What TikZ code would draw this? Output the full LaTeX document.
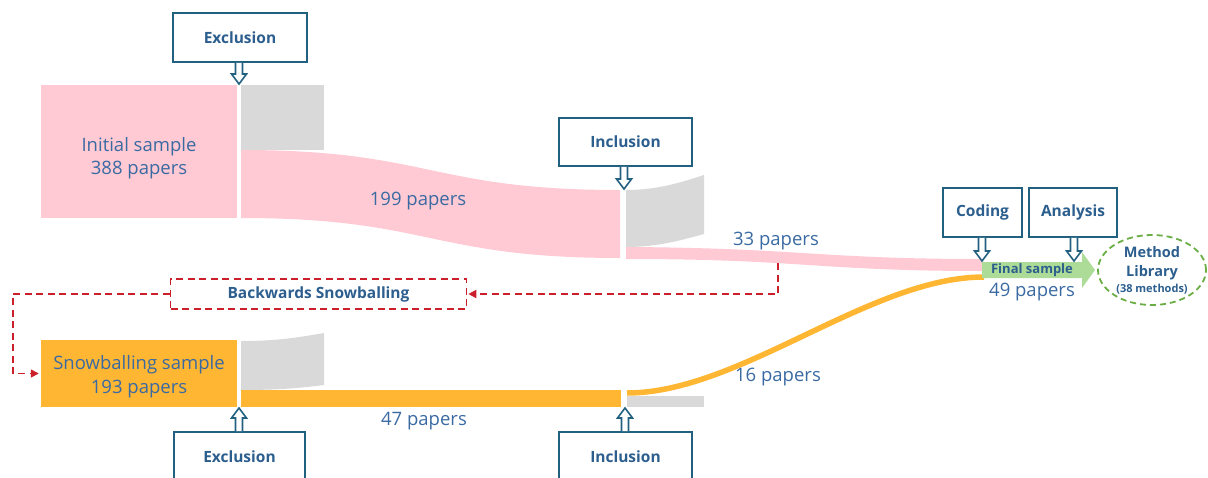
\documentclass[tikz,border=0pt]{standalone}
\usepackage{fontspec}
\setmainfont{Open Sans}
\usetikzlibrary{calc,arrows.meta,shapes.geometric}

\definecolor{flowpink}{HTML}{FFCAD4}
\definecolor{flowgray}{HTML}{D9D9D9}
\definecolor{floworange}{HTML}{FFB633}
\definecolor{finalgreen}{HTML}{ADDC98}
\definecolor{libgreen}{HTML}{6AAE45}
\definecolor{boxblue}{HTML}{22607F}
\definecolor{txtblue}{HTML}{3A6AA2}
\definecolor{boldblue}{HTML}{2C5E8E}
\definecolor{snowred}{HTML}{CC1F2C}

\tikzset{
  lbl/.style={text=txtblue, font=\fontsize{18.5}{23.5}\selectfont, align=center, inner sep=0pt},
  stagebox/.style={draw=boxblue, line width=1.8pt, fill=white, text=boldblue,
    font=\bfseries\fontsize{15.5}{18}\selectfont, inner sep=0pt},
  samplebox/.style={minimum width=196pt, inner sep=0pt},
  % hollow block arrow pointing down onto the target
  hollowdown/.style={draw=boxblue, line width=1.6pt, fill=white, line join=miter,
    to path={let \p1=(\tikztostart), \p2=(\tikztotarget) in
      (\x2-3.5pt,\y1) -- (\x2-3.5pt,\y2+10pt) -- (\x2-7.5pt,\y2+10pt) -- (\x2,\y2)
      -- (\x2+7.5pt,\y2+10pt) -- (\x2+3.5pt,\y2+10pt) -- (\x2+3.5pt,\y1)}},
  % hollow block arrow pointing up onto the target
  hollowup/.style={draw=boxblue, line width=1.6pt, fill=white, line join=miter,
    to path={let \p1=(\tikztostart), \p2=(\tikztotarget) in
      (\x2-3.5pt,\y1) -- (\x2-3.5pt,\y2-10pt) -- (\x2-7.5pt,\y2-10pt) -- (\x2,\y2)
      -- (\x2+7.5pt,\y2-10pt) -- (\x2+3.5pt,\y2-10pt) -- (\x2+3.5pt,\y1)}},
  reddash/.style={draw=snowred, line width=1.6pt, dash pattern=on 7pt off 4.5pt,
    -{Triangle[length=8pt,width=8pt]}},
}

\begin{document}
\begin{tikzpicture}[x=1pt,y=-1pt]
\useasboundingbox (0,0) rectangle (1208,477);
\clip (0,0) rectangle (1208,477);

% ---------- upper stream: initial sample ----------
\node[samplebox, fill=flowpink, minimum height=133pt] (init) at (139,151.5) {};
\node[lbl] (initText) at (139,158) {Initial sample\\388 papers};
% excluded part
\fill[flowgray] (241,85) rectangle (324,150);
% 199 papers flowing on
\fill[flowpink] (241,150) .. controls (430,150) and (430,190) .. (620,190)
  -- (620,258) .. controls (430,258) and (430,218) .. (241,218) -- cycle;
\node[lbl] (n199) at (418,201) {199 papers};
% not included
\fill[flowgray] (626,190) .. controls (660,190) and (685,181) .. (704,175)
  -- (704,234) .. controls (685,239) and (660,247) .. (626,247) -- cycle;
% 33 papers to the final sample
\fill[flowpink] (626,247) .. controls (800,248) and (820,259) .. (982,259)
  -- (982,271) .. controls (820,271) and (800,259) .. (626,259) -- cycle;
\node[lbl] (n33) at (776,241) {33 papers};

% ---------- lower stream: snowballing sample ----------
\node[samplebox, fill=floworange, minimum height=67pt] (snow) at (139,373.5) {};
\node[lbl] (snowText) at (139,376.5) {Snowballing sample\\193 papers};
\fill[flowgray] (241,341) .. controls (280,341) and (300,337) .. (324,333)
  -- (324,385) .. controls (300,388) and (280,390) .. (241,390) -- cycle;
\fill[floworange] (241,390) rectangle (621,407);
\node[lbl] (n47) at (424,421) {47 papers};
\fill[flowgray] (627,396) rectangle (704,407);
\draw[floworange, line width=5.5pt] (627,393) .. controls (740,393) and (870,277) .. (984,277);
\node[lbl] (n16) at (778,377) {16 papers};

% ---------- final sample ----------
\fill[finalgreen] (982,262) -- (1082,262) -- (1082,252) -- (1095,270)
  -- (1082,288) -- (1082,278) -- (982,278) -- cycle;
\node[text=boldblue, font=\bfseries\fontsize{13}{14}\selectfont, inner sep=0pt]
  (final) at (1032,270) {Final sample};
\node[lbl] (n49) at (1032,292) {49 papers};

\node[ellipse, draw=libgreen, line width=1.8pt, dash pattern=on 6pt off 4pt,
  minimum width=108pt, minimum height=70pt, inner sep=0pt, align=center,
  text=boldblue, font=\bfseries\fontsize{14.5}{19}\selectfont] (lib) at (1152,270)
  {Method\\Library\\[-3pt]{\fontsize{11}{12}\selectfont(38 methods)}};

% ---------- process steps ----------
\node[stagebox, minimum width=134pt, minimum height=49pt] (exTop) at (240,37.5) {Exclusion};
\node[stagebox, minimum width=133pt, minimum height=48pt] (inTop) at (625.5,142) {Inclusion};
\node[stagebox, minimum width=79pt, minimum height=49pt] (coding) at (982.5,212.5) {Coding};
\node[stagebox, minimum width=88pt, minimum height=49pt] (analysis) at (1073,212.5) {Analysis};
\node[stagebox, minimum width=131pt, minimum height=49pt] (exBot) at (239.5,456.5) {Exclusion};
\node[stagebox, minimum width=133pt, minimum height=49pt] (inBot) at (625.5,456.5) {Inclusion};

\coordinate (exTopTip) at (239,84);
\coordinate (inTopTip) at (624,189);
\coordinate (codingTip) at (982,261);
\coordinate (analysisTip) at (1074,261);
\coordinate (exBotTip) at (239,408);
\coordinate (inBotTip) at (625,408);

\draw[hollowdown] (exTop.south) to (exTopTip);
\draw[hollowdown] (inTop.south) to (inTopTip);
\draw[hollowdown] (coding.south) to (codingTip);
\draw[hollowdown] (analysis.south) to (analysisTip);
\draw[hollowup] (exBot.north) to (exBotTip);
\draw[hollowup] (inBot.north) to (inBotTip);

% ---------- backwards snowballing loop ----------
\node[draw=snowred, line width=1.6pt, dash pattern=on 7pt off 4.5pt,
  minimum width=296pt, minimum height=30pt, inner sep=0pt, text=boldblue,
  font=\bfseries\fontsize{15.5}{18}\selectfont] (bs) at (318.5,294) {Backwards Snowballing};
\coordinate (bsStart) at (778,263);
\coordinate (bsBend) at (13,294);
\draw[reddash, shorten >=1pt] (bsStart) |- (bs.east);
\draw[reddash, shorten >=2pt] (bs.west) -- (bsBend) |- (snow.west);
\end{tikzpicture}
\end{document}
